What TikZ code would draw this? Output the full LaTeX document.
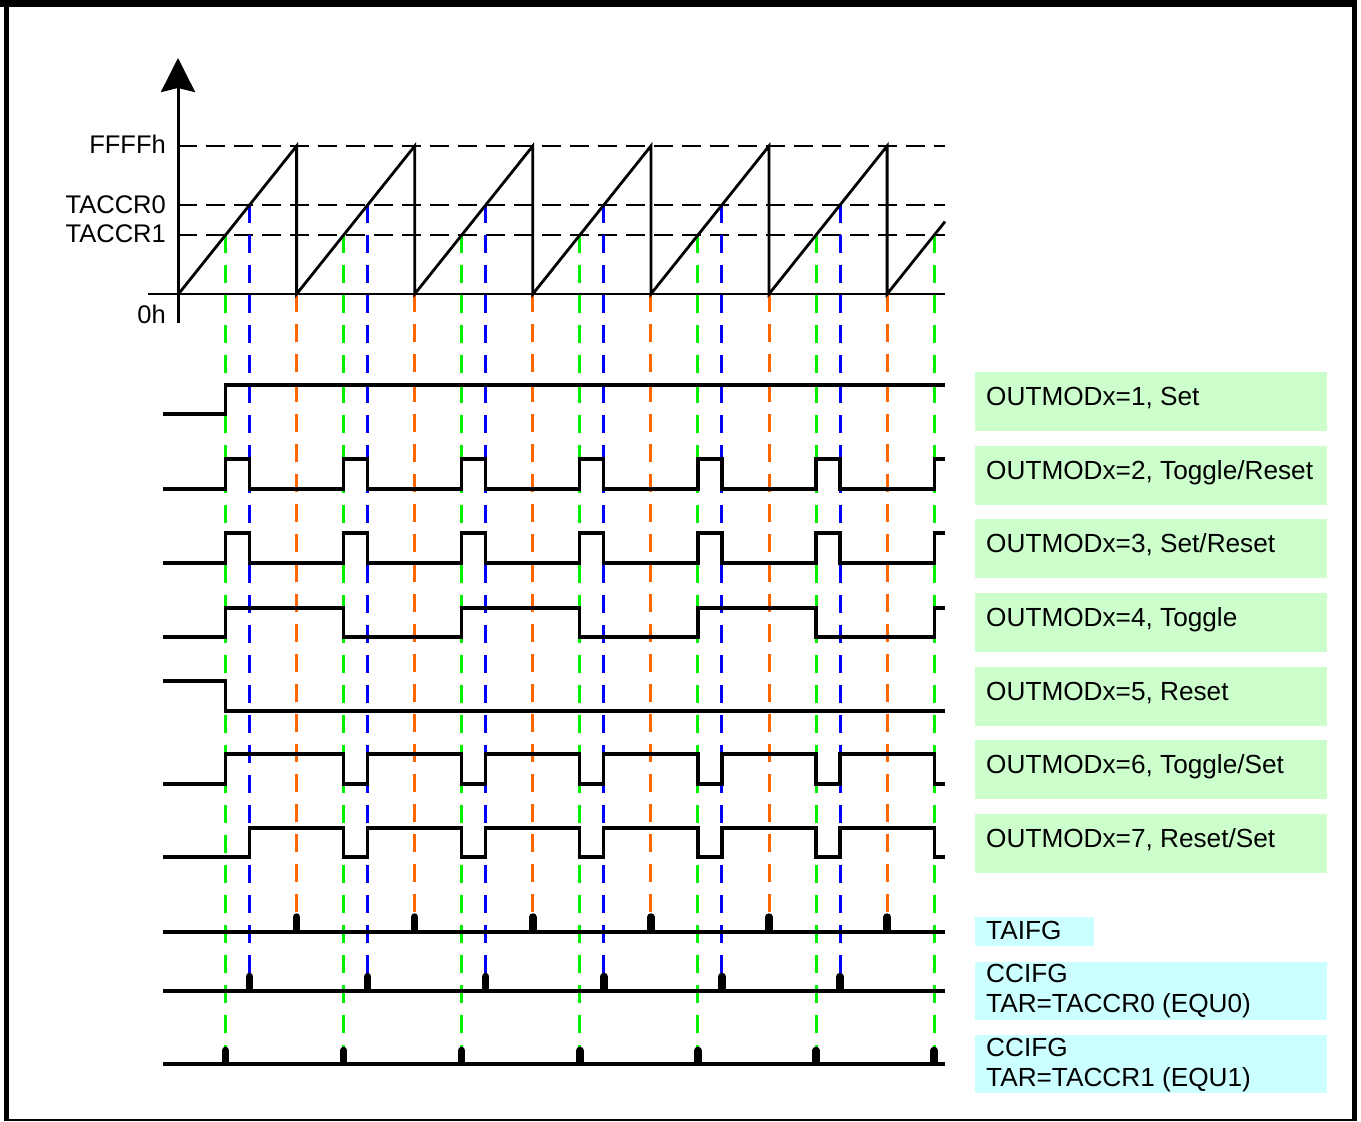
\documentclass[tikz,border=0pt]{standalone}
\usepackage{fontspec}
\setmainfont{Liberation Sans}
\usetikzlibrary{arrows.meta}
\definecolor{cg}{RGB}{0,240,0}
\definecolor{cb}{RGB}{0,0,255}
\definecolor{co}{RGB}{255,102,0}
\definecolor{boxg}{RGB}{204,255,204}
\definecolor{boxc}{RGB}{204,255,255}
\begin{document}
\begin{tikzpicture}[x=1pt,y=-1pt,
  wave/.style={line width=3.2pt, line join=miter},
  refline/.style={line width=2.8pt, dash pattern=on 19pt off 9pt},
  vline/.style={line width=3pt, dash pattern=on 18pt off 12pt},
  vg/.style={vline, draw=cg},
  vb/.style={vline, draw=cb},
  vo/.style={vline, draw=co},
  flagtick/.style={line width=7.5pt, line cap=round},
  txt/.style={font=\fontsize{25.5}{30}\selectfont, inner sep=0pt},
  lbl/.style={inner sep=0pt, font=\fontsize{26.2}{30}\selectfont, anchor=base west},
  axlbl/.style={txt, anchor=base east},
  gbox/.style={fill=boxg},
  cbox/.style={fill=boxc},
]
\useasboundingbox (0,0) rectangle (1361,1122);
% frame
\fill (0,0) rectangle (1357,7);
\fill (4,0) rectangle (9,1121);
\fill (1352,0) rectangle (1357,1121);
\draw[line width=1.5pt] (4,1120.2) -- (1357,1120.2);

% reference levels
\draw[refline] (178,146) -- (945,146);
\draw[refline] (178,205) -- (945,205);
\draw[refline] (178,235) -- (945,235);

% coloured event lines
\foreach \x in {225.5,343.6,461.7,579.8,697.9,816.0,934.1}
  \draw[vg] (\x,235) -- (\x,1064);
\foreach \x in {249.5,367.6,485.7,603.8,721.9,840.0}
  \draw[vb] (\x,205) -- (\x,991);
\foreach \x in {296.6,414.7,532.8,650.9,769.0,887.1}
  \draw[vo] (\x,294) -- (\x,932);

% axes
\draw[line width=3pt, -{Stealth[length=34pt,width=34pt,inset=4pt]}] (178,323) -- (178,58);
\draw[line width=2.8pt] (148,294) -- (945,294);

% sawtooth
\draw[line width=2.8pt, line join=miter] (178.5,294)
  foreach \p in {296.6,414.7,532.8,650.9,769.0,887.1} { -- (\p,146) -- (\p,294) }
  -- (945,221.6);

% axis labels
\node[axlbl] (lffff) at (166,153.3) {FFFFh};
\node[axlbl] (lccr0) at (166,213.3) {TACCR0};
\node[axlbl] (lccr1) at (166,242.7) {TACCR1};
\node[axlbl] (l0h) at (166,323.5) {0h};

% waveforms
% 1 Set
\draw[wave] (163,414) -- (225.5,414) -- (225.5,385) -- (945,385);
% 2 Toggle/Reset
\draw[wave] (163,489)
  foreach \g/\b in {225.5/249.5,343.6/367.6,461.7/485.7,579.8/603.8,697.9/721.9,816.0/840.0}
  { -- (\g,489) -- (\g,459) -- (\b,459) -- (\b,489) }
  -- (934.1,489) -- (934.1,459) -- (945,459);
% 3 Set/Reset
\draw[wave] (163,563)
  foreach \g/\b in {225.5/249.5,343.6/367.6,461.7/485.7,579.8/603.8,697.9/721.9,816.0/840.0}
  { -- (\g,563) -- (\g,533) -- (\b,533) -- (\b,563) }
  -- (934.1,563) -- (934.1,533) -- (945,533);
% 4 Toggle
\draw[wave] (163,637) -- (225.5,637) -- (225.5,608) -- (343.6,608) -- (343.6,637)
  -- (461.7,637) -- (461.7,608) -- (579.8,608) -- (579.8,637)
  -- (697.9,637) -- (697.9,608) -- (816.0,608) -- (816.0,637)
  -- (934.1,637) -- (934.1,608) -- (945,608);
% 5 Reset
\draw[wave] (163,681) -- (225.5,681) -- (225.5,711) -- (945,711);
% 6 Toggle/Set
\draw[wave] (163,784) -- (225.5,784) -- (225.5,754)
  foreach \g/\b in {343.6/367.6,461.7/485.7,579.8/603.8,697.9/721.9,816.0/840.0}
  { -- (\g,754) -- (\g,784) -- (\b,784) -- (\b,754) }
  -- (934.1,754) -- (934.1,784) -- (945,784);
% 7 Reset/Set
\draw[wave] (163,857) -- (249.5,857) -- (249.5,828)
  foreach \g/\b in {343.6/367.6,461.7/485.7,579.8/603.8,697.9/721.9,816.0/840.0}
  { -- (\g,828) -- (\g,857) -- (\b,857) -- (\b,828) }
  -- (934.1,828) -- (934.1,857) -- (945,857);

% flag lines
\draw[wave] (163,932) -- (945,932);
\draw[wave] (163,991) -- (945,991);
\draw[wave] (163,1064) -- (945,1064);
\foreach \x in {296.6,414.7,532.8,650.9,769.0,887.1}
  \draw[flagtick] (\x,917) -- (\x,930);
\foreach \x in {249.5,367.6,485.7,603.8,721.9,840.0}
  \draw[flagtick] (\x,976.5) -- (\x,989);
\foreach \x in {225.5,343.6,461.7,579.8,697.9,816.0,934.1}
  \draw[flagtick] (\x,1050.5) -- (\x,1062);

% mode label boxes
\foreach \i/\t in {0/{OUTMODx=1, Set},1/{OUTMODx=2, Toggle/Reset},2/{OUTMODx=3, Set/Reset},
  3/{OUTMODx=4, Toggle},4/{OUTMODx=5, Reset},5/{OUTMODx=6, Toggle/Set},6/{OUTMODx=7, Reset/Set}} {
  \pgfmathsetmacro{\top}{372+73.67*\i}
  \fill[gbox] (975,\top) rectangle (1327,\top+59);
  \node[lbl] (mode\i) at (986,\top+33.5) {\t};
}

% flag label boxes
\fill[cbox] (975,917) rectangle (1094,946);
\node[lbl] (taifg) at (986,939) {TAIFG};
\fill[cbox] (975,962) rectangle (1327,1020);
\node[lbl] (equa) at (986,982) {CCIFG};
\node[lbl] (equb) at (986,1012.3) {TAR=TACCR0 (EQU0)};
\fill[cbox] (975,1035) rectangle (1327,1093);
\node[lbl] (eqva) at (986,1056) {CCIFG};
\node[lbl] (eqvb) at (986,1086) {TAR=TACCR1 (EQU1)};
\end{tikzpicture}
\end{document}
